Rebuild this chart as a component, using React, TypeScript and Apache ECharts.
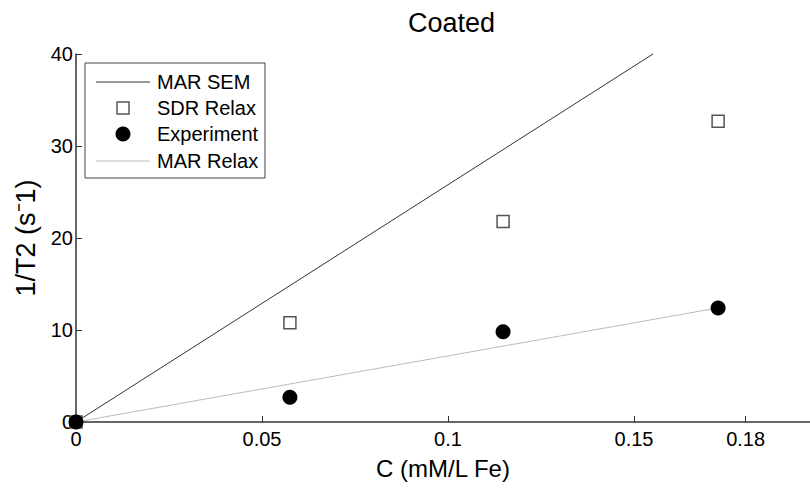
import React, { useEffect, useRef } from "react";
import * as echarts from "echarts";

const xTicks = [0, 0.05, 0.1, 0.15, 0.18];
const marSem: [number, number][] = [
  [0, 0],
  [0.1551, 40],
];
const sdrRelax: [number, number][] = [
  [0, 0],
  [0.0575, 10.8],
  [0.1148, 21.8],
  [0.1726, 32.7],
];
const experiment: [number, number][] = [
  [0, 0],
  [0.0575, 2.7],
  [0.1148, 9.8],
  [0.1726, 12.4],
];
const marRelax: [number, number][] = [
  [0, 0],
  [0.1726, 12.4],
];
const legendNames = ["MAR SEM", "SDR Relax", "Experiment", "MAR Relax"];

const FONT = "Liberation Sans, Arial, sans-serif";

export default function App() {
  const ref = useRef<HTMLDivElement>(null);
  useEffect(() => {
    if (!ref.current) return;
    const chart = echarts.init(ref.current, undefined, { renderer: "svg" });
    const lx = 85,
      ly = 63;
    const rowY = [82, 108, 134, 161];
    chart.setOption({
      animation: false,
      backgroundColor: "#fff",
      textStyle: { fontFamily: FONT },
      title: {
        text: "Coated",
        left: 403,
        top: 4,
        textStyle: { fontFamily: FONT, fontSize: 27, fontWeight: "normal", color: "#000" },
      },
      grid: { left: 76, right: 0, top: 54, bottom: 71, outerBoundsMode: "none" },
      xAxis: {
        type: "value",
        min: 0,
        max: 0.1973,
        name: "C (mM/L Fe)",
        nameLocation: "middle",
        nameGap: 34,
        nameTextStyle: { fontFamily: FONT, fontSize: 24, color: "#000" },
        axisLine: { show: true, lineStyle: { color: "#333", width: 1.5 } },
        axisTick: { show: true, inside: true, length: 6, customValues: xTicks, lineStyle: { color: "#333" } },
        axisLabel: {
          customValues: xTicks,
          margin: 7,
          fontFamily: FONT,
          fontSize: 20,
          color: "#000",
          formatter: (v: number) => String(v),
        },
        splitLine: { show: false },
      },
      yAxis: {
        type: "value",
        min: 0,
        max: 40,
        interval: 10,
        name: "1/T2 (s\u207B1)",
        nameLocation: "middle",
        nameGap: 24,
        nameTextStyle: { fontFamily: FONT, fontSize: 27, color: "#000" },
        axisLine: { show: true, lineStyle: { color: "#333", width: 1.5 } },
        axisTick: { show: true, inside: true, length: 6, lineStyle: { color: "#333" } },
        axisLabel: { margin: 3, fontFamily: FONT, fontSize: 20, color: "#000" },
        splitLine: { show: false },
      },
      series: [
        {
          name: legendNames[0],
          type: "line",
          data: marSem,
          symbol: "none",
          lineStyle: { color: "#333", width: 1 },
          z: 2,
        },
        {
          name: legendNames[1],
          type: "scatter",
          data: sdrRelax,
          symbol: "rect",
          symbolSize: 12,
          itemStyle: { color: "#fff", borderColor: "#555", borderWidth: 1.5, opacity: 1 },
          z: 3,
        },
        {
          name: legendNames[3],
          type: "line",
          data: marRelax,
          symbol: "none",
          lineStyle: { color: "#bbb", width: 1 },
          z: 2,
        },
        {
          name: legendNames[2],
          type: "scatter",
          data: experiment,
          symbol: "circle",
          symbolSize: 15,
          itemStyle: { color: "#000", opacity: 1 },
          z: 4,
        },
      ],
      graphic: [
        {
          type: "rect",
          shape: { x: lx, y: ly, width: 180, height: 115 },
          style: { fill: "#fff", stroke: "#444", lineWidth: 1 },
          z: 10,
        },
        {
          type: "line",
          shape: { x1: 96, y1: rowY[0], x2: 150, y2: rowY[0] },
          style: { stroke: "#333", lineWidth: 1 },
          z: 11,
        },
        {
          type: "rect",
          shape: { x: 117, y: rowY[1] - 6, width: 12, height: 12 },
          style: { fill: "#fff", stroke: "#555", lineWidth: 1.5 },
          z: 11,
        },
        {
          type: "circle",
          shape: { cx: 123, cy: rowY[2], r: 7.5 },
          style: { fill: "#000" },
          z: 11,
        },
        {
          type: "line",
          shape: { x1: 96, y1: rowY[3], x2: 150, y2: rowY[3] },
          style: { stroke: "#bbb", lineWidth: 1 },
          z: 11,
        },
        ...legendNames.map((n, i) => ({
          type: "text",
          x: 157,
          y: rowY[i],
          style: {
            text: n,
            fontFamily: FONT,
            fontSize: 20,
            fill: "#000",
            verticalAlign: "middle",
          },
          z: 11,
        })),
      ],
    });
    return () => chart.dispose();
  }, []);
  return (
    <div
      ref={ref}
      style={{ position: "absolute", left: 0, top: 0, width: 810, height: 493 }}
    />
  );
}
